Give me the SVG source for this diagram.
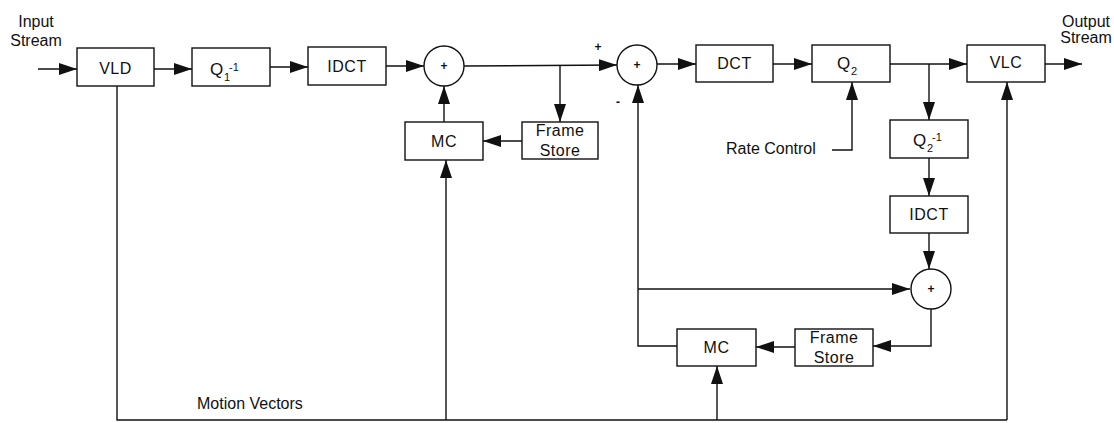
<svg xmlns="http://www.w3.org/2000/svg" width="1114" height="423" viewBox="0 0 1114 423">
<style>
.box{fill:#fff;stroke:#111;stroke-width:1.4}
.sum{fill:#fff;stroke:#111;stroke-width:1.4}
.ln{fill:none;stroke:#111;stroke-width:1.4}
.arr{marker-end:url(#ah)}
text{font-family:"Liberation Sans",Arial,sans-serif;fill:#111}
.lbl{font-size:16px;text-anchor:middle;letter-spacing:0.5px}
.q{font-size:17px}
.sm{font-size:11px}
.plus{font-size:12px;text-anchor:middle;font-weight:bold}
.note{font-size:16px}
</style>
<defs>
<marker id="ah" markerUnits="userSpaceOnUse" markerWidth="18" markerHeight="12" refX="18" refY="6" orient="auto">
<path d="M0,0 L18,6 L0,12 z" fill="#111"/>
</marker>
</defs>
<rect width="1114" height="423" fill="#fff"/>
<g id="connectors">
<path class="ln arr" d="M38,69 L77,69"/>
<path class="ln arr" d="M154,69 L192,69"/>
<path class="ln arr" d="M270,67 L308,67"/>
<path class="ln arr" d="M386,66 L424,66"/>
<path class="ln arr" d="M464,66 L617,65"/>
<path class="ln arr" d="M560,66 L560,122"/>
<path class="ln arr" d="M522,141 L483,141"/>
<path class="ln arr" d="M444,122 L444,86"/>
<path class="ln arr" d="M657,64 L696,64"/>
<path class="ln arr" d="M773,64 L812,64"/>
<path class="ln arr" d="M890,64 L967,64"/>
<path class="ln arr" d="M1045,64 L1082,64"/>
<path class="ln arr" d="M929,64 L929,120"/>
<path class="ln arr" d="M929,158 L929,196"/>
<path class="ln arr" d="M929,233 L929,269"/>
<path class="ln arr" d="M832,150 L852,150 L852,82"/>
<path class="ln arr" d="M931,309 L931,346 L873,346"/>
<path class="ln arr" d="M795,347 L756,347"/>
<path class="ln arr" d="M677,346 L638,346 L638,85"/>
<path class="ln arr" d="M638,289 L910,289"/>
<path class="ln" d="M117,86 L117,420 L1007,420"/>
<path class="ln arr" d="M1007,420 L1007,82"/>
<path class="ln arr" d="M446,420 L446,160"/>
<path class="ln arr" d="M717,420 L717,366"/>
</g>
<g id="labels">
<text class="note" x="36" y="27" text-anchor="middle">Input</text>
<text class="note" x="36" y="45.5" text-anchor="middle">Stream</text>
<text class="note" x="1086" y="27" text-anchor="middle">Output</text>
<text class="note" x="1086" y="43" text-anchor="middle">Stream</text>
<text class="note" x="726" y="154">Rate Control</text>
<text class="note" x="197" y="409">Motion Vectors</text>
<text class="plus" x="598" y="51">+</text>
<text class="plus" x="618" y="106">-</text>
</g>
<g id="vld"><rect class="box" x="77" y="48" width="77" height="38"/><text class="lbl" x="115.5" y="74">VLD</text></g>
<g id="q1inv"><rect class="box" x="192" y="48" width="78" height="38"/><text class="q" x="210" y="75">Q<tspan class="sm" x="224" y="81">1</tspan><tspan class="sm" x="229" y="71">-1</tspan></text></g>
<g id="idct1"><rect class="box" x="308" y="47" width="78" height="38"/><text class="lbl" x="347" y="72">IDCT</text></g>
<g id="sum1"><circle class="sum" cx="444" cy="66" r="20"/><text class="plus" x="444" y="70">+</text></g>
<g id="fs1"><rect class="box" x="522" y="122" width="76" height="37"/><text class="lbl" x="560" y="136">Frame</text><text class="lbl" x="560" y="156">Store</text></g>
<g id="mc1"><rect class="box" x="405" y="122" width="78" height="38"/><text class="lbl" x="444" y="147">MC</text></g>
<g id="sum2"><circle class="sum" cx="637" cy="65" r="20"/><text class="plus" x="637" y="69">+</text></g>
<g id="dct"><rect class="box" x="696" y="45" width="77" height="37"/><text class="lbl" x="734.5" y="69">DCT</text></g>
<g id="q2"><rect class="box" x="812" y="45" width="78" height="37"/><text class="q" x="837" y="69">Q<tspan class="sm" x="851" y="75">2</tspan></text></g>
<g id="vlc"><rect class="box" x="967" y="45" width="78" height="37"/><text class="lbl" x="1006" y="68">VLC</text></g>
<g id="q2inv"><rect class="box" x="890" y="120" width="78" height="38"/><text class="q" x="913" y="146">Q<tspan class="sm" x="927" y="152">2</tspan><tspan class="sm" x="932" y="141">-1</tspan></text></g>
<g id="idct2"><rect class="box" x="890" y="196" width="78" height="37"/><text class="lbl" x="929" y="220">IDCT</text></g>
<g id="sum3"><circle class="sum" cx="931" cy="289" r="20"/><text class="plus" x="931" y="293">+</text></g>
<g id="mc2"><rect class="box" x="677" y="329" width="79" height="37"/><text class="lbl" x="716.5" y="353">MC</text></g>
<g id="fs2"><rect class="box" x="795" y="329" width="78" height="37"/><text class="lbl" x="834" y="343">Frame</text><text class="lbl" x="834" y="363">Store</text></g>
</svg>
